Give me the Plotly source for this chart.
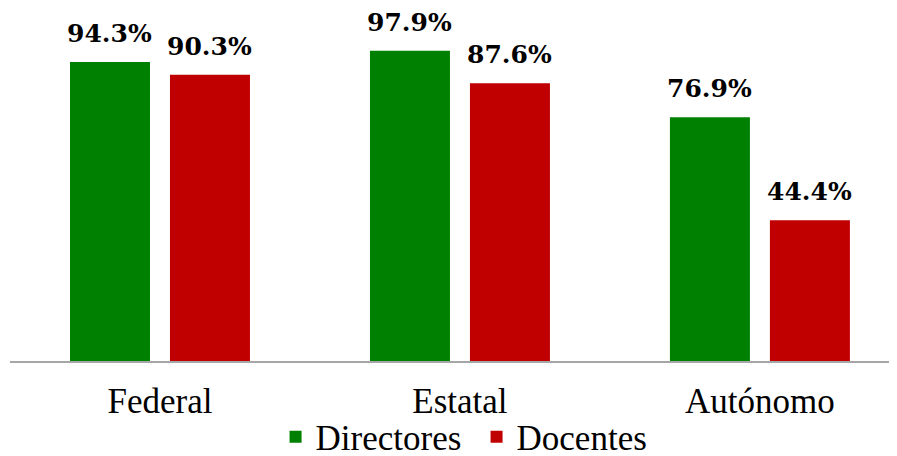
import plotly.graph_objects as go

categories = ["Federal", "Estatal", "Autónomo"]
directores = [94.3, 97.9, 76.9]
docentes = [90.3, 87.6, 44.4]
series_names = ["Directores", "Docentes"]
colors = ["#008000", "#C00000"]

SERIF = "Liberation Serif"

fig = go.Figure()
for name, vals, col in zip(series_names, [directores, docentes], colors):
    fig.add_trace(go.Bar(name=name, x=categories, y=vals, marker_color=col,
                         marker_line_width=0))

# value labels above bars
for vals, shift in [(directores, -50), (docentes, 50)]:
    for c, v in zip(categories, vals):
        fig.add_annotation(x=c, y=v, text=f"<b>{v:.1f}%</b>", showarrow=False,
                           xshift=shift, yshift=12, yanchor="bottom",
                           font=dict(family="DejaVu Serif", size=25, color="black"))

# page body has an 8px margin, so the figure is sized to fill the rest
fig.update_layout(
    width=889, height=448,
    margin=dict(l=2, r=0, t=36, b=95, autoexpand=False),
    font=dict(family=SERIF, color="black"),
    plot_bgcolor="white", paper_bgcolor="white",
    barmode="group", bargap=1/3, bargroupgap=0.2,
    showlegend=True,
    legend=dict(orientation="h", x=0.526, xanchor="center", y=-0.24, yanchor="middle",
                font=dict(family=SERIF, size=35, color="black"),
                bgcolor="rgba(0,0,0,0)", entrywidth=156, entrywidthmode="pixels",
                traceorder="normal"),
    xaxis=dict(range=[-0.5, 2.457], showline=True, linecolor="#A6A6A6", linewidth=2,
               tickfont=dict(family=SERIF, size=35, color="black"),
               ticks="", ticklabelstandoff=8, automargin=False),
    yaxis=dict(range=[0, 100], visible=False, showgrid=False, automargin=False),
)
fig.write_html("out.html")
